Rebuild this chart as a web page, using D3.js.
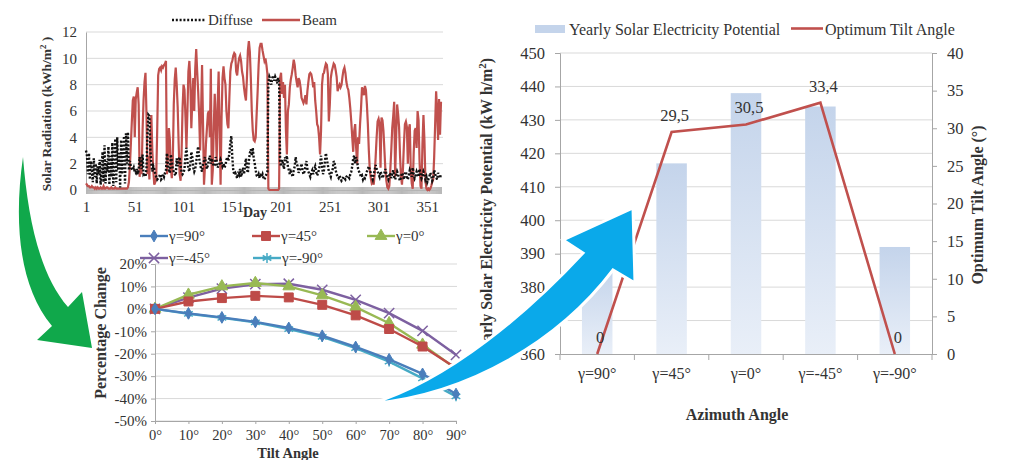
<!DOCTYPE html>
<html>
<head>
<meta charset="utf-8">
<script src="https://cdn.jsdelivr.net/npm/d3@7"></script>
<style>
  body { margin: 0; background: #fff; }
  svg, svg text { font-family: "Liberation Serif", "Times New Roman", serif; }
</style>
</head>
<body>
<svg id="fig" width="1028" height="460"></svg>
<script>
// ---------- data: daily solar radiation (kWh/m2), day 1..365 ----------
const beam = [
  0.5,0.4,0.3,0.3,0.2,0.2,0.3,0.2,0.2,0.1, 0.2,0.1,0.2,0.1,0.1,0.2,0.1,0.1,0.3,0.1,
  0.1,0.2,0.2,0.1,0.1,0.1,0.2,0.1,0.1,0.1, 0.2,0.1,0.1,0.1,0.1,0.1,0.1,0.1,0.1,0.1,
  0.1,0.1,0.1,0.2,0.6,1.8,3.5,5.2,6.8,7.1, 4.0,6.9,7.4,7.8,6.5,1.0,2.5,1.2,4.5,6.8,
  8.2,8.9,5.8,1.2,2.6,0.8,3.8,5.7,3.0,1.5, 0.4,0.6,1.0,4.5,8.7,9.2,9.3,9.1,9.4,9.3,
  9.5,9.6,9.8,1.2,2.5,4.7,3.8,1.6,0.9,2.2, 6.5,8.4,9.3,8.0,6.3,3.5,1.2,0.7,2.8,6.2,
  8.0,7.6,5.5,3.2,6.0,9.0,9.8,8.2,4.7,6.8, 8.5,6.0,9.2,10.7,9.0,7.5,5.7,3.0,6.0,9.5,
  5.0,0.4,1.8,3.5,4.7,5.8,6.0,4.0,9.2,0.4, 1.5,4.8,7.3,5.2,2.2,6.5,9.0,4.5,0.4,5.5,
  8.5,9.4,8.5,8.0,6.0,5.0,4.7,7.0,9.0,9.6, 9.8,10.2,10.4,10.3,9.0,8.7,9.5,10.0,10.2,9.8,
  9.0,8.6,7.8,7.2,6.8,8.5,10.6,11.3,10.5,8.5, 6.0,4.5,3.8,3.7,4.0,5.8,7.5,9.5,10.8,11.1,
  11.1,10.6,10.2,9.8,10.0,9.5,8.8,0.1,0.0,0.0, 0.0,0.0,0.0,0.0,0.0,0.0,0.0,0.0,0.1,8.5,
  8.9,7.3,8.2,7.0,8.0,4.5,2.7,6.0,6.5,7.8, 8.4,8.8,9.3,9.9,9.5,8.7,8.2,7.8,8.5,8.3,
  7.8,7.0,6.8,6.6,6.8,7.2,6.5,7.5,8.2,8.8, 8.9,8.8,8.4,7.8,8.2,6.8,6.0,5.0,4.8,4.0,
  2.7,4.5,8.0,8.8,8.9,9.3,9.6,9.5,8.8,5.2, 6.5,8.5,9.0,9.3,9.6,9.5,9.1,8.6,7.5,7.8,
  8.0,7.8,8.0,8.6,9.1,9.3,8.9,8.2,7.8,7.6, 7.0,6.2,5.2,4.0,2.9,4.5,5.0,3.2,2.0,4.0,
  3.5,5.0,6.2,7.8,7.6,7.2,7.9,7.6,6.5,5.0, 3.0,1.5,0.9,0.5,0.6,0.4,1.2,2.5,4.0,5.2,
  5.4,5.0,1.7,5.5,5.3,4.5,3.0,1.5,0.7,0.2, 0.1,0.3,1.5,3.0,4.7,5.6,6.7,1.0,4.0,6.5,
  5.8,4.8,2.6,1.0,0.4,1.6,3.5,5.0,5.2,4.8, 2.0,4.6,5.0,1.5,0.5,0.1,2.8,4.5,4.7,3.2,
  6.0,5.3,2.2,0.3,0.1,3.5,5.7,3.8,0.8,0.1, 0.0,0.1,0.0,0.1,0.3,0.6,0.8,2.5,5.0,7.5,
  6.0,3.8,6.9,4.2,6.7
];
const diffuse = [
  3.0,2.6,1.2,2.8,0.8,2.2,1.5,0.6,2.4,1.0, 2.0,0.5,1.8,1.2,2.3,0.4,1.6,2.9,0.6,3.4,
  0.5,2.2,1.4,3.3,0.4,2.6,1.0,3.6,0.3,2.0, 3.9,0.6,4.0,1.5,2.8,0.2,3.8,1.2,2.5,4.1,
  0.5,4.3,2.0,4.4,1.5,2.2,1.8,1.6,1.5,1.7, 1.4,1.3,1.6,1.2,1.5,2.5,1.8,1.6,2.7,1.2,
  1.3,1.0,1.6,4.2,5.7,5.6,3.0,2.0,1.4,1.8, 1.6,1.2,1.0,0.8,0.9,1.0,1.2,0.8,0.9,1.2,
  1.0,1.3,1.5,2.8,2.0,1.5,1.3,2.7,2.2,1.6, 1.4,1.2,1.1,2.4,1.8,2.3,2.5,1.8,1.4,1.2,
  1.3,1.6,2.6,3.2,2.2,1.6,1.4,2.0,2.9,2.5, 1.7,1.4,1.6,2.1,2.8,3.3,2.4,2.0,1.6,1.4,
  2.0,2.2,2.5,2.0,1.6,1.9,2.3,2.6,2.0,2.4, 2.1,1.8,1.9,2.5,2.2,1.7,1.9,2.0,2.3,2.1,
  1.8,2.0,1.7,1.9,2.3,2.5,2.2,2.8,3.6,4.1, 2.5,1.5,1.2,1.3,1.1,0.9,1.4,1.2,1.6,1.0,
  1.3,1.7,1.2,1.8,2.4,1.6,1.3,2.2,2.8,3.1, 2.6,3.2,2.4,2.0,1.5,1.1,1.0,1.2,0.9,1.1,
  1.0,1.2,0.9,0.8,1.0,1.2,1.4,8.2,8.6,8.4, 8.0,8.5,8.7,8.3,8.6,8.4,8.1,8.5,8.2,2.2,
  1.8,2.3,2.0,1.6,2.5,2.2,2.6,1.8,1.5,1.2, 1.4,1.2,1.0,1.5,1.8,2.5,2.0,1.8,1.3,1.5,
  1.7,2.0,1.5,1.2,1.4,1.8,2.2,1.6,1.4,1.2, 1.0,1.3,1.5,1.2,1.6,1.8,1.4,1.1,1.3,1.6,
  2.0,2.6,1.8,1.2,1.5,2.2,2.8,2.3,1.9,1.4, 1.2,1.0,1.4,1.6,2.2,2.0,1.5,1.2,1.0,0.9,
  1.1,0.9,0.7,0.8,1.0,0.9,0.8,1.0,1.1,1.0, 0.9,1.2,1.4,1.8,2.4,2.6,2.0,2.5,2.2,1.6,
  1.4,1.2,1.0,1.1,0.8,1.0,0.9,1.1,1.4,1.6, 1.8,1.5,1.3,1.0,0.8,1.2,1.5,1.9,1.6,1.4,
  1.2,1.0,1.4,1.2,0.9,1.1,1.3,1.6,1.2,1.0, 0.8,1.1,1.3,0.9,1.2,1.5,1.0,0.8,1.1,1.4,
  1.2,0.9,0.7,1.0,1.3,1.1,0.8,1.2,1.4,1.0, 0.8,1.1,1.5,1.3,1.0,1.7,1.2,0.9,1.1,1.4,
  1.2,1.0,1.6,1.2,0.9,1.1,1.4,1.2,0.8,1.0, 0.6,0.8,1.0,1.3,1.1,0.7,0.9,1.5,1.2,1.0,
  0.8,1.3,1.1,0.9,1.2
];
const radTicks = [0, 2, 4, 6, 8, 10, 12];
const dayLabels = [1, 51, 101, 151, 201, 251, 301, 351];

// ---------- data: percentage change vs tilt angle ----------
const tiltAngles = [0, 10, 20, 30, 40, 50, 60, 70, 80, 90];
const tiltNames = ["γ=90°", "γ=45°", "γ=0°", "γ=-45°", "γ=-90°"];
const chgG90  = [0, -2.0, -3.8, -5.8, -8.5, -12.0, -17.0, -22.5, -29.0, -38.0];
const chgG45  = [0, 3.3, 4.8, 5.8, 5.1, 1.8, -2.9, -9.0, -16.8, -26.4];
const chgG0   = [0, 6.3, 10.0, 11.5, 10.0, 6.0, 0.8, -6.4, -16.0, -26.7];
const chgGm45 = [0, 5.0, 9.0, 11.0, 11.2, 8.5, 4.0, -1.9, -9.8, -20.5];
const chgGm90 = [0, -2.2, -4.0, -6.0, -9.0, -12.5, -17.5, -23.5, -31.0, -39.0];
const pctTicks = [20, 10, 0, -10, -20, -30, -40, -50];

// ---------- data: azimuth chart ----------
const azimuthCats = ["γ=90°", "γ=45°", "γ=0°", "γ=-45°", "γ=-90°"];
const yearlyPotential = [386, 417, 438, 434, 392];
const optimumTilt = [0, 29.5, 30.5, 33.4, 0];
const optimumLabels = ["0", "29,5", "30,5", "33,4", "0"];
const potTicks = [360, 370, 380, 390, 400, 410, 420, 430, 440, 450];
const tiltTicks = [0, 5, 10, 15, 20, 25, 30, 35, 40];

const svg = d3.select("#fig");
const serif = '"Liberation Serif", "Times New Roman", serif';
const gridColor = "#d9d9d9", axisColor = "#a6a6a6";

// d3 axes put font-family="sans-serif" on their group; switch it back to serif
function styleAxis(g, size) {
    g.attr("font-family", serif);
    g.select(".domain").attr("stroke", axisColor);
    g.selectAll(".tick line").attr("stroke", axisColor);
    g.selectAll("text").style("font-family", serif).style("font-size", size + "px").attr("fill", "#333");
}

/* ================= top left: daily radiation ================= */
const xDay = d3.scaleLinear().domain([1, 365]).range([86, 441]);
const yRad = d3.scaleLinear().domain([0, 12]).range([190, 32]);
let gTop = svg.append("g");

gTop.selectAll(".gridTop").data(radTicks.slice(1)).join("line")
    .attr("x1", 86).attr("x2", 443)
    .attr("y1", d => yRad(d)).attr("y2", d => yRad(d))
    .attr("stroke", gridColor);

gTop.append("g").attr("transform", "translate(86,0)")
    .call(d3.axisLeft(yRad).tickValues(radTicks).tickSize(0).tickPadding(9))
    .call(styleAxis, 15);

gTop.append("g").attr("transform", "translate(0,190)")
    .call(d3.axisBottom(xDay).tickValues(d3.range(1, 366)).tickSize(4).tickPadding(7)
        .tickFormat(d => dayLabels.includes(d) ? d : ""))
    .call(styleAxis, 15)
    .call(g => g.selectAll(".tick line").attr("stroke", "#b8b8b8").attr("y1", -3));

let radLine = d3.line().x((d, i) => xDay(i + 1)).y(d => yRad(d));
gTop.append("path").datum(beam).attr("d", radLine)
    .attr("fill", "none").attr("stroke", "#c0504d").attr("stroke-width", 2.2);
gTop.append("path").datum(diffuse).attr("d", radLine)
    .attr("fill", "none").attr("stroke", "#111").attr("stroke-width", 2.4)
    .attr("stroke-dasharray", "2,1.8");

// legend
gTop.append("line").attr("x1", 172).attr("x2", 206).attr("y1", 20).attr("y2", 20)
    .attr("stroke", "#111").attr("stroke-width", 2.6).attr("stroke-dasharray", "2,1.8");
gTop.append("text").attr("x", 208).attr("y", 25).text("Diffuse").style("font-size", "15px").attr("fill", "#333");
gTop.append("line").attr("x1", 262).attr("x2", 300).attr("y1", 20).attr("y2", 20)
    .attr("stroke", "#c0504d").attr("stroke-width", 2.4);
gTop.append("text").attr("x", 302).attr("y", 25).text("Beam").style("font-size", "15px").attr("fill", "#333");

gTop.append("text").attr("transform", "translate(51,114) rotate(-90)")
    .attr("text-anchor", "middle").style("font-size", "13.5px").style("font-weight", "bold").attr("fill", "#333")
    .html('Solar Radiation (kWh/m<tspan dy="-5" font-size="9">2</tspan><tspan dy="5"> )</tspan>');
gTop.append("text").attr("x", 255).attr("y", 217).attr("text-anchor", "middle")
    .style("font-size", "14px").style("font-weight", "bold").attr("fill", "#333").text("Day");

/* ================= bottom left: percentage change ================= */
const xTilt = d3.scalePoint().domain(tiltAngles).range([155, 456]);
const yPct = d3.scaleLinear().domain([-50, 20]).range([421, 264]);
let gMid = svg.append("g");

gMid.selectAll(".gridMid").data(pctTicks).join("line")
    .attr("x1", 155).attr("x2", 457)
    .attr("y1", d => yPct(d)).attr("y2", d => yPct(d))
    .attr("stroke", gridColor);

gMid.append("g").attr("transform", "translate(155,0)")
    .call(d3.axisLeft(yPct).tickValues(pctTicks).tickSize(4).tickPadding(4).tickFormat(d => d + "%"))
    .call(styleAxis, 15);

gMid.append("g").attr("transform", "translate(0,421)")
    .call(d3.axisBottom(xTilt).tickSize(3).tickPadding(6).tickFormat(d => d + "°"))
    .call(styleAxis, 14.5);

const tiltSeries = [
  {name: tiltNames[0], values: chgG90,  color: "#4a7ebb", symbol: d3.symbolDiamond,  size: 40, filled: true},
  {name: tiltNames[1], values: chgG45,  color: "#be4b48", symbol: d3.symbolSquare,   size: 80, filled: true},
  {name: tiltNames[2], values: chgG0,   color: "#98b954", symbol: d3.symbolTriangle, size: 60, filled: true},
  {name: tiltNames[3], values: chgGm45, color: "#7d60a0", symbol: d3.symbolTimes || d3.symbolCross, size: 70, filled: false},
  {name: tiltNames[4], values: chgGm90, color: "#46aac5", symbol: d3.symbolAsterisk || d3.symbolCross, size: 70, filled: false}
];
let pctLine = d3.line().x((d, i) => xTilt(tiltAngles[i])).y(d => yPct(d));

function marker(sel, s) {
    sel.attr("d", d3.symbol().type(s.symbol).size(s.size))
       .attr("fill", s.filled ? s.color : "none")
       .attr("stroke", s.color).attr("stroke-width", s.filled ? 1 : 1.5);
}

// later series first so that γ=90° ends up on top
tiltSeries.slice().reverse().forEach(s => {
    gMid.append("path").datum(s.values).attr("d", pctLine)
        .attr("fill", "none").attr("stroke", s.color).attr("stroke-width", 2.4);
    gMid.selectAll(null).data(s.values).join("path")
        .attr("transform", (d, i) => "translate(" + xTilt(tiltAngles[i]) + "," + yPct(d) + ")")
        .call(marker, s);
});

// legend (two rows)
const legPos = [[140, 236], [252, 236], [367, 236], [140, 258], [253, 258]];
tiltSeries.forEach((s, i) => {
    let [lx, ly] = legPos[i];
    gMid.append("line").attr("x1", lx).attr("x2", lx + 28).attr("y1", ly).attr("y2", ly)
        .attr("stroke", s.color).attr("stroke-width", 2.4);
    gMid.append("path").attr("transform", "translate(" + (lx + 14) + "," + ly + ")").call(marker, s);
    gMid.append("text").attr("x", lx + 29).attr("y", ly + 5).text(s.name)
        .style("font-size", "15px").attr("fill", "#333");
});

gMid.append("text").attr("transform", "translate(106,333) rotate(-90)")
    .attr("text-anchor", "middle").style("font-size", "16px").style("font-weight", "bold").attr("fill", "#333")
    .text("Percentage Change");
gMid.append("text").attr("x", 288).attr("y", 458).attr("text-anchor", "middle")
    .style("font-size", "14.5px").style("font-weight", "bold").attr("fill", "#333").text("Tilt Angle");

/* ================= right: azimuth chart ================= */
const xAz = d3.scaleBand().domain(azimuthCats).range([560, 932]).padding(0);
const yPot = d3.scaleLinear().domain([360, 450]).range([354, 53]);
const yOpt = d3.scaleLinear().domain([0, 40]).range([354, 53]);
let gRight = svg.append("g");

let defs = svg.append("defs");
let grad = defs.append("linearGradient").attr("id", "barGrad")
    .attr("x1", 0).attr("y1", 0).attr("x2", 0).attr("y2", 1);
grad.append("stop").attr("offset", "0%").attr("stop-color", "#c4d4eb");
grad.append("stop").attr("offset", "100%").attr("stop-color", "#e9eff8");

gRight.selectAll(".gridRight").data(potTicks.slice(1)).join("line")
    .attr("x1", 560).attr("x2", 932)
    .attr("y1", d => yPot(d)).attr("y2", d => yPot(d))
    .attr("stroke", gridColor);

let barW = xAz.bandwidth() * 0.41;
gRight.selectAll(".bar").data(yearlyPotential).join("rect")
    .attr("x", (d, i) => xAz(azimuthCats[i]) + (xAz.bandwidth() - barW) / 2)
    .attr("y", d => yPot(d))
    .attr("width", barW)
    .attr("height", d => yPot(360) - yPot(d))
    .attr("fill", "url(#barGrad)");

gRight.append("g").attr("transform", "translate(560,0)")
    .call(d3.axisLeft(yPot).tickValues(potTicks).tickSize(5).tickPadding(10))
    .call(styleAxis, 16.5);

gRight.append("g").attr("transform", "translate(932,0)")
    .call(d3.axisRight(yOpt).tickValues(tiltTicks).tickSize(5).tickPadding(10))
    .call(styleAxis, 16.5);

gRight.append("g").attr("transform", "translate(0,354)")
    .call(d3.axisBottom(xAz).tickSize(0).tickPadding(14))
    .call(styleAxis, 16);
// category boundary ticks
gRight.selectAll(".catTick").data(azimuthCats.concat([null])).join("line")
    .attr("x1", (d, i) => 560 + i * xAz.step()).attr("x2", (d, i) => 560 + i * xAz.step())
    .attr("y1", 354).attr("y2", 360).attr("stroke", axisColor);

let optLine = d3.line()
    .x((d, i) => xAz(azimuthCats[i]) + xAz.bandwidth() / 2)
    .y(d => yOpt(d));
gRight.append("path").datum(optimumTilt).attr("d", optLine)
    .attr("fill", "none").attr("stroke", "#c0504d").attr("stroke-width", 2.6);

gRight.selectAll(".optLabel").data(optimumTilt).join("text")
    .attr("x", (d, i) => xAz(azimuthCats[i]) + xAz.bandwidth() / 2 + 3)
    .attr("y", d => yOpt(d) - 11)
    .attr("text-anchor", "middle")
    .style("font-size", "16.5px").attr("fill", "#333")
    .text((d, i) => optimumLabels[i]);

// legend
gRight.append("rect").attr("x", 535).attr("y", 25).attr("width", 30).attr("height", 8).attr("fill", "#c4d4eb");
gRight.append("text").attr("x", 569).attr("y", 35).text("Yearly Solar Electricity Potential")
    .style("font-size", "16px").attr("fill", "#333");
gRight.append("line").attr("x1", 791).attr("x2", 823).attr("y1", 28.5).attr("y2", 28.5)
    .attr("stroke", "#c0504d").attr("stroke-width", 2.6);
gRight.append("text").attr("x", 825).attr("y", 35).text("Optimum Tilt Angle")
    .style("font-size", "16px").attr("fill", "#333");

gRight.append("text").attr("transform", "translate(492,208) rotate(-90)")
    .attr("text-anchor", "middle").style("font-size", "16px").style("font-weight", "bold").attr("fill", "#333")
    .html('Yearly Solar Electricity Potential (kW h/m<tspan dy="-6" font-size="11">2</tspan><tspan dy="6">)</tspan>');
gRight.append("text").attr("transform", "translate(983,205) rotate(-90)")
    .attr("text-anchor", "middle").style("font-size", "16px").style("font-weight", "bold").attr("fill", "#333")
    .text("Optimum Tilt Angle (°)");
gRight.append("text").attr("x", 737).attr("y", 420).attr("text-anchor", "middle")
    .style("font-size", "16px").style("font-weight", "bold").attr("fill", "#333").text("Azimuth Angle");

/* ================= connecting arrows ================= */
const greenArrow = "M23,157 C14,220 18,285 52,326 L37,340 L92,348 L82,292 L68,307 C40,275 28,220 23,157 Z";
const blueArrow = "M370,404 C470,395 560,340 613,270 L635,283 L633,208 L563,240 L583,253 C530,310 450,380 370,404 Z";

svg.append("path").attr("d", greenArrow).attr("fill", "#10a84b");
svg.append("path").attr("d", blueArrow).attr("fill", "#0aa9ea")
    .attr("stroke", "#fff").attr("stroke-width", 3).attr("stroke-linejoin", "miter");
</script>
</body>
</html>
